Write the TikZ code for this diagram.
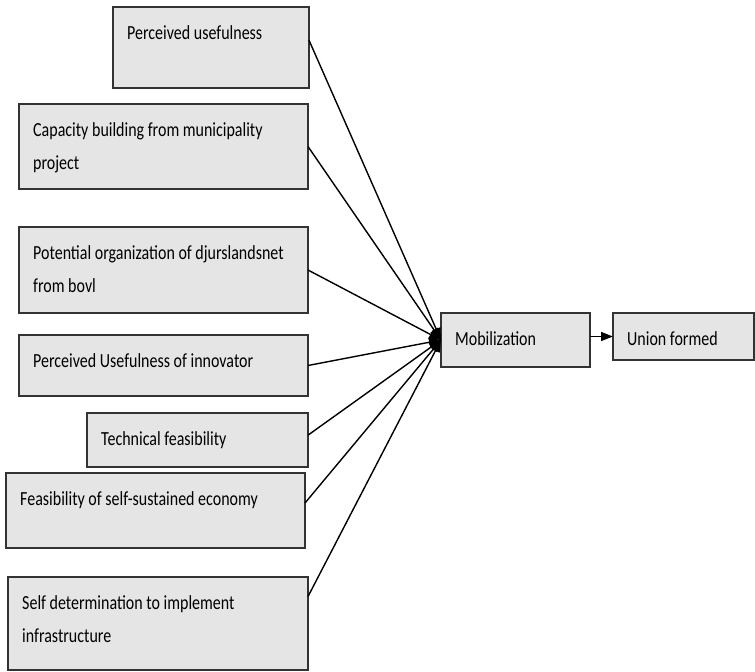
\documentclass[tikz,border=0pt]{standalone}
\usepackage{fontspec}
\setmainfont{Carlito}[FakeStretch=0.8]
\usetikzlibrary{arrows.meta,positioning,calc}
\newcommand{\factorbox}[6]{%
  \node[box,minimum width=#4pt,minimum height=#5pt,anchor=north west] (#1) at (#2,#3) {};
  \node[lbl,anchor=base west] (#1-t) at ($(#1.north west)+(14,32)$)
    {\begin{tabular}[t]{@{}l@{}}#6\end{tabular}};}

\begin{document}
\begin{tikzpicture}[x=1pt,y=-1pt,font=\fontsize{20}{33}\selectfont,
  box/.style={draw=black!80,line width=1.8pt,fill=black!10,inner sep=0pt,outer sep=0pt},
  lbl/.style={inner sep=0pt},
  link/.style={line width=1.4pt,-{Triangle[length=12pt,width=9pt]}}]
  \useasboundingbox (0,0) rectangle (755,672);
  \factorbox{b1}{113}{7}{196}{81}{Perceived usefulness}
  \factorbox{b2}{19}{104}{289}{85}{Capacity building from municipality\\project}
  \factorbox{b3}{19}{227}{289}{86}{Potential organization of djurslandsnet\\from bovl}
  \factorbox{b4}{19}{335}{289}{61}{Perceived Usefulness of innovator}
  \factorbox{b5}{87}{413}{221}{54}{Technical feasibility}
  \factorbox{b6}{6}{473}{299}{75}{Feasibility of self-sustained economy}
  \factorbox{b7}{8}{577}{300}{93}{Self determination to implement\\infrastructure}
  \factorbox{mob}{441}{313}{149}{54}{Mobilization}
  \factorbox{uni}{613}{313}{141}{47}{Union formed}
  \foreach \b/\f in {b1/0.41,b2/0.5,b3/0.5,b4/0.5,b5/0.41,b6/0.4,b7/0.21}
    \draw[link] ($(\b.north east)!\f!(\b.south east)$) -- (mob.west);
  \draw[link] (mob.east |- uni.west) -- (uni.west);
\end{tikzpicture}
\end{document}
